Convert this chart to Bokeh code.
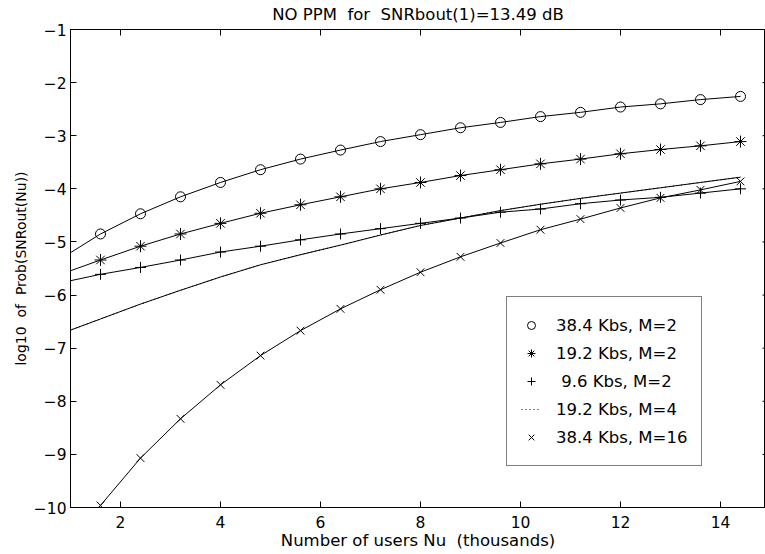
import math
from bokeh.plotting import figure
from bokeh.models import Legend, LegendItem, FixedTicker, Range1d
from bokeh.embed import file_html
from bokeh.resources import INLINE

# ---- data ----
x_line = [0.8, 1.6, 2.4, 3.2, 4.0, 4.8, 5.6, 6.4, 7.2, 8.0, 8.8, 9.6, 10.4, 11.2, 12.0, 12.8, 13.6, 14.4]
x_mark = x_line[1:]

y_384_m2 = [-5.32, -4.85, -4.47, -4.15, -3.88, -3.64, -3.44, -3.27, -3.11, -2.98, -2.85, -2.75, -2.64, -2.56, -2.46, -2.40, -2.32, -2.26]
y_192_m2 = [-5.61, -5.34, -5.08, -4.85, -4.65, -4.46, -4.30, -4.15, -4.00, -3.88, -3.75, -3.64, -3.53, -3.44, -3.34, -3.26, -3.19, -3.11]
y_96_m2 = [-5.77, -5.61, -5.48, -5.34, -5.19, -5.08, -4.96, -4.85, -4.75, -4.65, -4.55, -4.44, -4.38, -4.28, -4.21, -4.16, -4.08, -4.00]
y_192_m4 = [-6.73, -6.45, -6.17, -5.91, -5.66, -5.43, -5.24, -5.06, -4.87, -4.69, -4.55, -4.41, -4.29, -4.18, -4.08, -3.98, -3.88, -3.78]
y_384_m16 = [-11.0, -9.96, -9.07, -8.33, -7.69, -7.14, -6.67, -6.26, -5.90, -5.57, -5.28, -5.02, -4.77, -4.57, -4.36, -4.17, -4.02, -3.86]

series_labels = ["38.4 Kbs, M=2", "19.2 Kbs, M=2", " 9.6 Kbs, M=2", "19.2 Kbs, M=4", "38.4 Kbs, M=16"]

x_lim = (1.0, 14.9)
y_lim = (-10.0, -1.0)
x_ticks = [2, 4, 6, 8, 10, 12, 14]
y_ticks = [-10, -9, -8, -7, -6, -5, -4, -3, -2, -1]
y_tick_labels = ["\u221210", "\u22129", "\u22128", "\u22127", "\u22126", "\u22125", "\u22124", "\u22123", "\u22122", "\u22121"]

NB = "\u00a0"
title_text = "NO PPM" + NB + " for" + NB + " SNRbout(1)=13.49 dB"
x_label = "Number of users Nu" + NB + " (thousands)"
y_label = "log10" + NB + " of" + NB + " Prob(SNRout(Nu))"

FONT = "DejaVu Sans"
FS = "16.5px"
FS_TICK = "15.5px"
FS_YLAB = "14px"

p = figure(frame_width=695, frame_height=478,
           x_range=Range1d(*x_lim), y_range=Range1d(*y_lim),
           output_backend="svg", toolbar_location=None,
           min_border_left=70, min_border_right=0, min_border_top=29, min_border_bottom=47,
           title=title_text)

p.background_fill_color = "white"
p.border_fill_color = "white"
p.outline_line_color = "black"
p.outline_line_width = 1
p.xgrid.visible = False
p.ygrid.visible = False

p.title.align = "center"
p.title.vertical_align = "top"
p.title.text_font = FONT
p.title.text_font_size = FS
p.title.text_font_style = "normal"
p.title.text_color = "black"
p.title.standoff = 7
p.title.offset = 3

def style_axis(ax):
    ax.major_tick_in = 6
    ax.major_tick_out = 0
    ax.minor_tick_line_color = None
    ax.axis_line_color = "black"
    ax.major_tick_line_color = "black"
    ax.major_label_text_font = FONT
    ax.major_label_text_font_size = FS_TICK
    ax.major_label_text_color = "black"
    ax.axis_label_text_font = FONT
    ax.axis_label_text_font_size = FS
    ax.axis_label_text_font_style = "normal"
    ax.axis_label_text_color = "black"

xa = p.xaxis[0]
xa.ticker = FixedTicker(ticks=x_ticks)
xa.axis_label = x_label
style_axis(xa)
xa.major_label_standoff = 8
xa.axis_label_standoff = 0

ya = p.yaxis[0]
ya.ticker = FixedTicker(ticks=y_ticks)
ya.major_label_overrides = {t: l for t, l in zip(y_ticks, y_tick_labels)}
ya.axis_label = y_label
style_axis(ya)
ya.axis_label_text_font_size = FS_YLAB
ya.major_label_standoff = 4
ya.axis_label_standoff = 2

# tick marks on the top and right sides of the box (inner half only; clipped by the frame)
p.scatter(x_ticks, [y_lim[1]] * len(x_ticks), marker="dash", angle=math.pi / 2, size=12,
          line_color="black", line_width=1)
p.scatter([x_lim[1]] * len(y_ticks), y_ticks, marker="dash", size=6,
          line_color="black", line_width=1)

# ---- curves ----
for ys in [y_384_m2, y_192_m2, y_96_m2, y_192_m4, y_384_m16]:
    p.line(x_line, ys, line_color="black", line_width=1)

r_o = p.scatter(x_mark, y_384_m2[1:], marker="circle", size=10, fill_color=None, line_color="black", line_width=1)
r_a = p.scatter(x_mark, y_192_m2[1:], marker="asterisk", size=12, line_color="black", line_width=1)
r_p = p.scatter(x_mark, y_96_m2[1:], marker="cross", size=11, line_color="black", line_width=1)
r_d = p.line(x_line, y_192_m4, line_color="black", line_width=1, line_dash="1 3")
r_x = p.scatter(x_mark, y_384_m16[1:], marker="x", size=11, line_color="black", line_width=1)

legend = Legend(items=[LegendItem(label=l, renderers=[r]) for l, r in
                       zip(series_labels, [r_o, r_a, r_p, r_d, r_x])],
                location=(436, 41))
legend.padding = 14
legend.margin = 0
legend.glyph_width = 20
legend.glyph_height = 28
legend.label_height = 28
legend.spacing = 0
legend.label_standoff = 15
legend.border_line_color = "black"
legend.border_line_width = 1
legend.background_fill_color = "white"
legend.background_fill_alpha = 1
legend.label_text_font = FONT
legend.label_text_font_size = FS
legend.label_text_color = "black"
p.add_layout(legend)

open("out.html", "w").write(file_html(p, INLINE))
